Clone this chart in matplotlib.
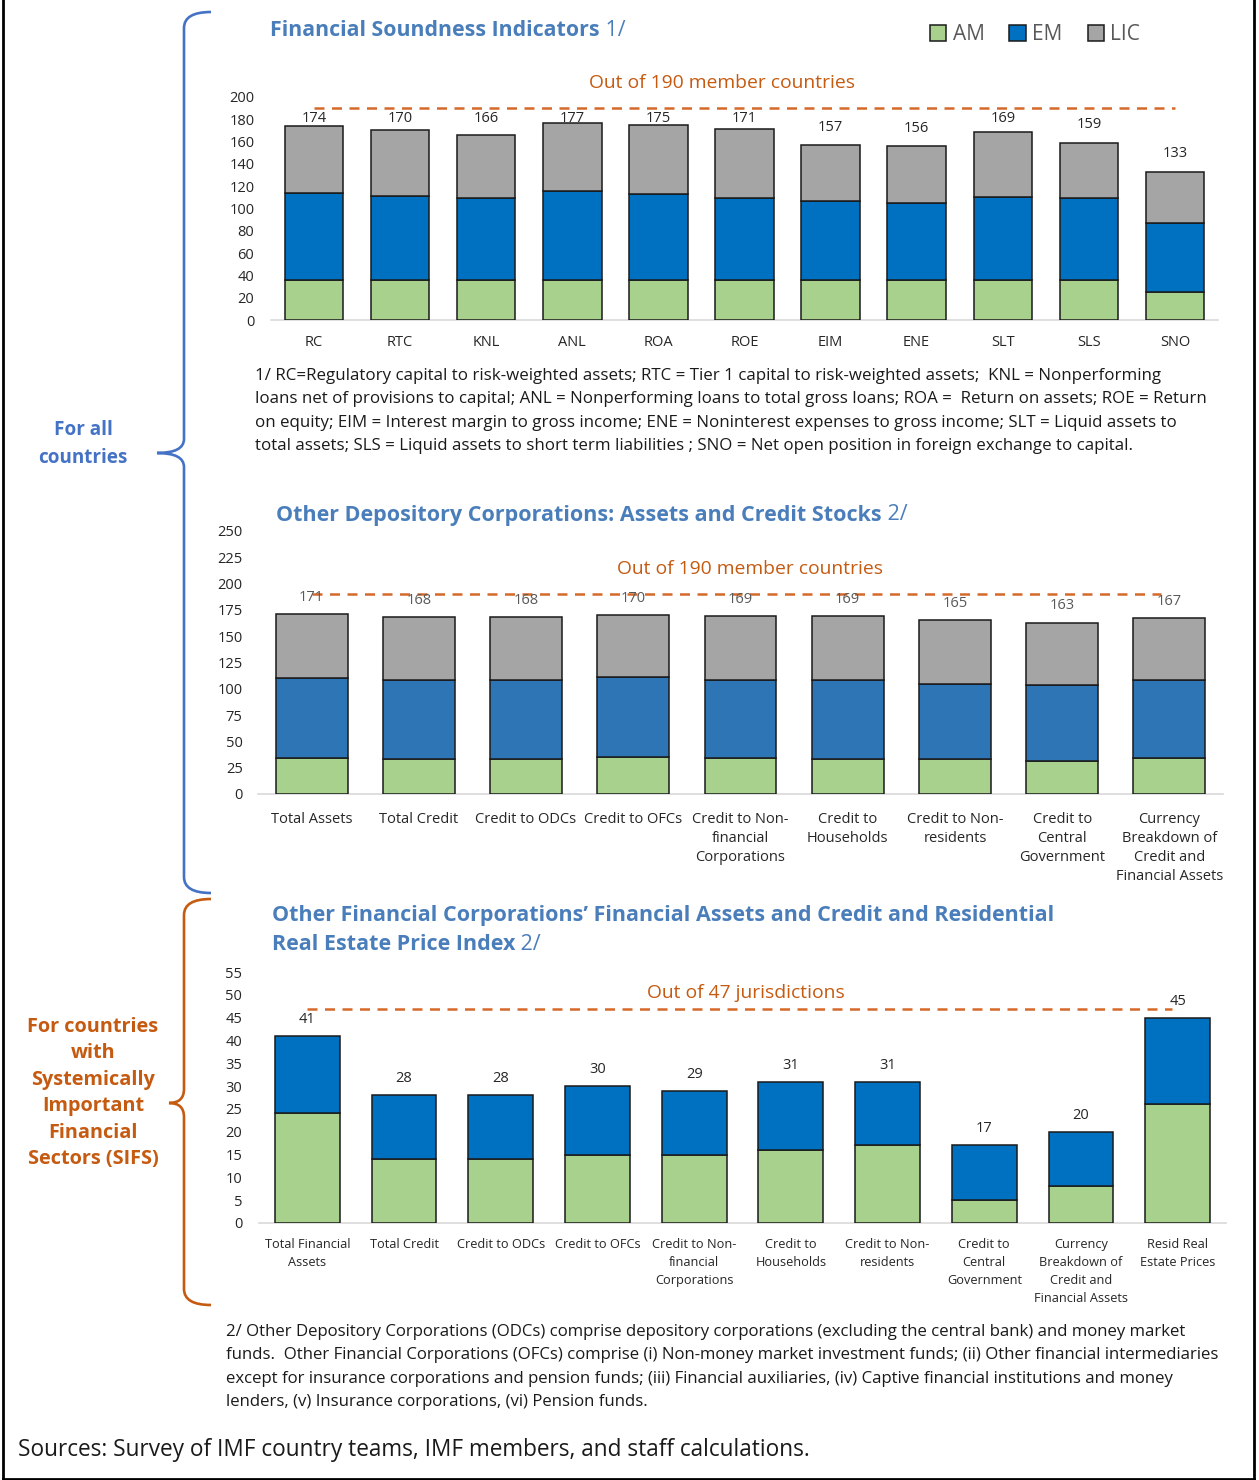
import matplotlib
matplotlib.use("Agg")
import matplotlib.pyplot as plt
import numpy as np
from matplotlib.path import Path
from matplotlib.patches import PathPatch

plt.rcParams['font.family'] = ['Open Sans', 'DejaVu Sans']

# ---- data ----
fsi_cats = ['RC', 'RTC', 'KNL', 'ANL', 'ROA', 'ROE', 'EIM', 'ENE', 'SLT', 'SLS', 'SNO']
fsi_am = [36, 36, 36, 36, 36, 36, 36, 36, 36, 36, 25]
fsi_em = [78, 75, 73, 80, 77, 73, 71, 69, 74, 73, 62]
fsi_lic = [60, 59, 57, 61, 62, 62, 50, 51, 59, 50, 46]

odc_cats = ['Total Assets', 'Total Credit', 'Credit to ODCs', 'Credit to OFCs',
            'Credit to Non-\nfinancial\nCorporations', 'Credit to\nHouseholds',
            'Credit to Non-\nresidents', 'Credit to\nCentral\nGovernment',
            'Currency\nBreakdown of\nCredit and\nFinancial Assets']
odc_am = [34, 33, 33, 35, 34, 33, 33, 31, 34]
odc_em = [76, 75, 75, 76, 74, 75, 72, 73, 74]
odc_lic = [61, 60, 60, 59, 61, 61, 60, 59, 59]

ofc_cats = ['Total Financial\nAssets', 'Total Credit', 'Credit to ODCs', 'Credit to OFCs',
            'Credit to Non-\nfinancial\nCorporations', 'Credit to\nHouseholds',
            'Credit to Non-\nresidents', 'Credit to\nCentral\nGovernment',
            'Currency\nBreakdown of\nCredit and\nFinancial Assets', 'Resid Real\nEstate Prices']
ofc_am = [24, 14, 14, 15, 15, 16, 17, 5, 8, 26]
ofc_em = [17, 14, 14, 15, 14, 15, 14, 12, 12, 19]

members = 190
jurisdictions = 47

note1 = ["1/ RC=Regulatory capital to risk-weighted assets; RTC = Tier 1 capital to risk-weighted assets;  KNL = Nonperforming",
         "loans net of provisions to capital; ANL = Nonperforming loans to total gross loans; ROA =  Return on assets; ROE = Return",
         "on equity; EIM = Interest margin to gross income; ENE = Noninterest expenses to gross income; SLT = Liquid assets to",
         "total assets; SLS = Liquid assets to short term liabilities ; SNO = Net open position in foreign exchange to capital."]
note2 = ["2/ Other Depository Corporations (ODCs) comprise depository corporations (excluding the central bank) and money market",
         "funds.  Other Financial Corporations (OFCs) comprise (i) Non-money market investment funds; (ii) Other financial intermediaries",
         "except for insurance corporations and pension funds; (iii) Financial auxiliaries, (iv) Captive financial institutions and money",
         "lenders, (v) Insurance corporations, (vi) Pension funds."]

# ---- colours ----
C_AM = '#A9D18E'
C_EM = '#0070C0'
C_EM2 = '#2E75B6'
C_LIC = '#A5A5A5'
C_TITLE = '#4A7EBB'
C_ORANGE = '#C55A11'
C_DASH = '#D5692A'
C_BLUE = '#4472C4'

W, H = 1259, 1480
fig = plt.figure(figsize=(W / 100, H / 100), dpi=100)

ov = fig.add_axes([0, 0, 1, 1])
ov.set_xlim(0, W)
ov.set_ylim(H, 0)
ov.axis('off')


def ax_at(x0, yt, x1, yb):
    return fig.add_axes([x0 / W, 1 - yb / H, (x1 - x0) / W, (yb - yt) / H])


def style(ax, ymax, step, xlabels, xfs, lblpad, lsp):
    ax.set_ylim(0, ymax)
    ax.set_yticks(np.arange(0, ymax + 1, step))
    for s in ['top', 'right', 'left']:
        ax.spines[s].set_visible(False)
    ax.spines['bottom'].set_color('#D9D9D9')
    ax.spines['bottom'].set_linewidth(1.2)
    ax.tick_params(length=0, labelsize=10.5, colors='#262626')
    ax.tick_params(axis='y', pad=lblpad)
    ax.set_xticks(range(len(xlabels)))
    ax.set_xticklabels(xlabels, fontsize=xfs, linespacing=lsp, va='top')
    ax.set_facecolor('none')


def stack(ax, series, colors, width):
    x = np.arange(len(series[0]))
    bottom = np.zeros(len(x))
    bars = []
    for vals, c in zip(series, colors):
        b = ax.bar(x, vals, width, bottom=bottom, color=c, edgecolor='#1A1A1A', linewidth=1.1, zorder=3)
        bars.append(b)
        bottom = bottom + np.array(vals)
    return x, bottom, bars


# ---- top chart ----
ax1 = ax_at(271, 97, 1218, 320)
x, tot, bars = stack(ax1, [fsi_am, fsi_em, fsi_lic], [C_AM, C_EM, C_LIC], 0.68)
style(ax1, 200, 20, fsi_cats, 10.5, 12, 1.2)
ax1.tick_params(axis='x', pad=11)
ax1.set_xlim(-0.5, len(x) - 0.5)
ax1.plot([0, len(x) - 1], [members, members], ls=(0, (4, 3)), color=C_DASH, lw=1.8, zorder=2)
for xi, t in zip(x, tot):
    ax1.text(xi, min(t + 16, 181), f'{int(t)}', ha='center', va='center', fontsize=10.5, color='#262626')

ov.text(722, 83, 'Out of 190 member countries', ha='center', va='center', fontsize=13.9, color=C_ORANGE)
ax1.legend(bars, ['AM', 'EM', 'LIC'], loc='center', bbox_to_anchor=(1035 / W, 1 - 35 / H),
           bbox_transform=fig.transFigure, ncol=3, frameon=False, fontsize=15,
           handlelength=0.8, handleheight=0.8, handletextpad=0.3, columnspacing=1.2, labelcolor='#595959')

t1 = ov.text(270, 31, 'Financial Soundness Indicators', ha='left', va='center', fontsize=15.4,
             fontweight='bold', color=C_TITLE)
ov.annotate(' 1/', xy=(1, 0), xycoords=t1, va='bottom', ha='left', fontsize=15.4, color=C_TITLE)

for i, line in enumerate(note1):
    ov.text(255, 376 + i * 23.3, line, ha='left', va='center', fontsize=12.2, color='#1A1A1A')

# ---- middle chart ----
ax2 = ax_at(258, 531, 1223, 794)
x, tot, _ = stack(ax2, [odc_am, odc_em, odc_lic], [C_AM, C_EM2, C_LIC], 0.67)
style(ax2, 250, 25, odc_cats, 10.5, 11, 1.37)
ax2.tick_params(axis='x', pad=13)
ax2.set_xlim(-0.5, len(x) - 0.5)
ax2.plot([0, len(x) - 1.08], [members, members], ls=(0, (4, 3)), color=C_DASH, lw=1.8, zorder=2)
for xi, t in zip(x, tot):
    ax2.text(xi, t + 16, f'{int(t)}', ha='center', va='center', fontsize=10.5, color='#595959')

ov.text(750, 569, 'Out of 190 member countries', ha='center', va='center', fontsize=13.9, color=C_ORANGE)
t2 = ov.text(276, 515, 'Other Depository Corporations: Assets and Credit Stocks', ha='left', va='center',
             fontsize=15.5, fontweight='bold', color=C_TITLE)
ov.annotate(' 2/', xy=(1, 0), xycoords=t2, va='bottom', ha='left', fontsize=15.5, color=C_TITLE)

# ---- bottom chart ----
ax3 = ax_at(259, 972, 1226, 1223)
x, tot, _ = stack(ax3, [ofc_am, ofc_em], [C_AM, C_EM], 0.67)
style(ax3, 55, 5, ofc_cats, 9.2, 12, 1.5)
ax3.tick_params(axis='x', pad=11)
ax3.set_xlim(-0.5, len(x) - 0.5)
ax3.plot([0, len(x) - 1.06], [jurisdictions, jurisdictions], ls=(0, (4, 3)), color=C_DASH, lw=1.8, zorder=2)
for xi, t in zip(x, tot):
    ax3.text(xi, t + 3.6, f'{int(t)}', ha='center', va='center', fontsize=10.5, color='#262626')

ov.text(746, 993, 'Out of 47 jurisdictions', ha='center', va='center', fontsize=13.9, color=C_ORANGE)
ov.text(272, 915, 'Other Financial Corporations\u2019 Financial Assets and Credit and Residential',
        ha='left', va='center', fontsize=15.5, fontweight='bold', color=C_TITLE)
t3 = ov.text(272, 944, 'Real Estate Price Index', ha='left', va='center', fontsize=15.5,
             fontweight='bold', color=C_TITLE)
ov.annotate(' 2/', xy=(1, 0), xycoords=t3, va='bottom', ha='left', fontsize=15.5, color=C_TITLE)

for i, line in enumerate(note2):
    ov.text(226, 1332 + i * 23.3, line, ha='left', va='center', fontsize=12.1, color='#1A1A1A')

ov.text(18, 1450, 'Sources: Survey of IMF country teams, IMF members, and staff calculations.',
        ha='left', va='center', fontsize=16.3, color='#1A1A1A')

# ---- braces and side labels ----
def brace(xv, xr, xt, y0, ym, y1, color):
    verts = [(xr, y0), (xv, y0), (xv, y0 + 16),
             (xv, ym - 14), (xv, ym), (xt, ym),
             (xv, ym), (xv, ym + 14),
             (xv, y1 - 16), (xv, y1), (xr, y1)]
    codes = [Path.MOVETO, Path.CURVE3, Path.CURVE3,
             Path.LINETO, Path.CURVE3, Path.CURVE3,
             Path.CURVE3, Path.CURVE3,
             Path.LINETO, Path.CURVE3, Path.CURVE3]
    ov.add_patch(PathPatch(Path(verts, codes), fill=False, edgecolor=color, lw=1.9))


brace(184, 211, 157, 12, 453, 893, C_BLUE)
brace(184, 211, 169, 899, 1103, 1305, C_ORANGE)

ov.text(83, 444, 'For all\ncountries', ha='center', va='center', fontsize=13.6, fontweight='bold',
        color=C_BLUE, linespacing=1.5)
ov.text(93, 1093, 'For countries\nwith\nSystemically\nImportant\nFinancial\nSectors (SIFS)', ha='center',
        va='center', fontsize=14.3, fontweight='bold', color=C_ORANGE, linespacing=1.43)

# outer frame
ov.plot([3, 3], [0, H - 1], color='black', lw=2)
ov.plot([1254, 1254], [0, H - 1], color='black', lw=2)
ov.plot([3, 1254], [H - 1, H - 1], color='black', lw=2)

fig.savefig('out.png', dpi=100)
